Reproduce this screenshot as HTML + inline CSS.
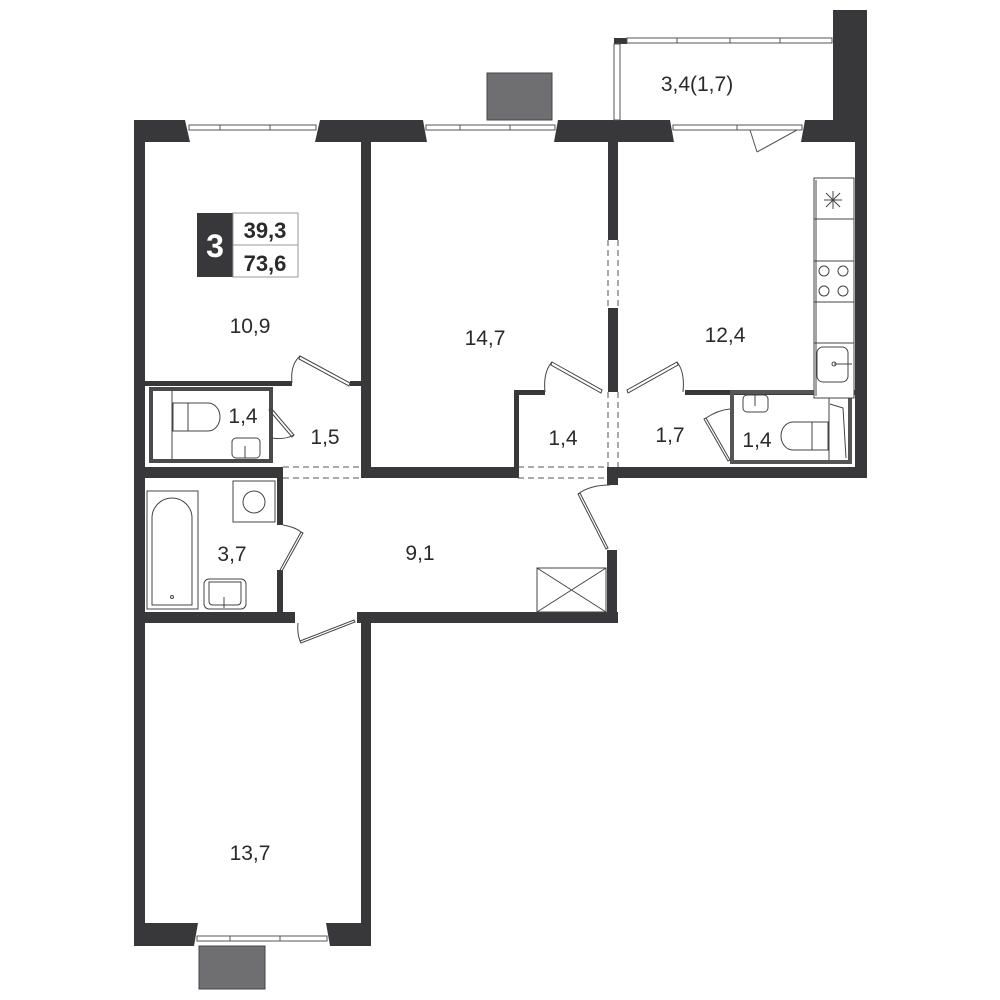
<!DOCTYPE html>
<html><head><meta charset="utf-8"><style>
html,body{margin:0;padding:0;background:#fff;}
svg{display:block;}
text{font-family:"Liberation Sans",sans-serif;fill:#2a2a2c;}
</style></head><body>
<svg width="1000" height="1000" viewBox="0 0 1000 1000" xmlns="http://www.w3.org/2000/svg">
<g fill="#38383a">
<rect x="134" y="120" width="700" height="22"/>
<rect x="833" y="10" width="34" height="132"/>
<rect x="855" y="130" width="12" height="348"/>
<rect x="134" y="120" width="11" height="826"/>
<rect x="361" y="142" width="10" height="336"/>
<rect x="608" y="142" width="10" height="98"/>
<rect x="608" y="308" width="10" height="84"/>
<rect x="610" y="467" width="257" height="11"/>
<rect x="145" y="381" width="147" height="5"/>
<rect x="350" y="381" width="11" height="5"/>
<rect x="134" y="467" width="149" height="11"/>
<rect x="361" y="467" width="157" height="11"/>
<rect x="514" y="390" width="5" height="88"/>
<rect x="514" y="390" width="31" height="5"/>
<rect x="685" y="390" width="170" height="5"/>
<rect x="607" y="467" width="11" height="18"/>
<rect x="277" y="478" width="6" height="47"/>
<rect x="277" y="570" width="6" height="53"/>
<rect x="134" y="612" width="161" height="11"/>
<rect x="357" y="612" width="261" height="11"/>
<rect x="607" y="550" width="10" height="73"/>
<rect x="361" y="623" width="10" height="323"/>
<rect x="134" y="923" width="237" height="23"/>
<rect x="614" y="38" width="13" height="6"/>
</g>
<g fill="#fff" stroke="#555" stroke-width="1">
<polygon points="185,120 320,120 315,142 190,142" stroke="none"/>
<polygon points="423,120 558,120 554,142 427,142" stroke="none"/>
<polygon points="670,120 805,120 801,142 674,142" stroke="none"/>
<polygon points="194,946 330,946 326,923 198,923" stroke="none"/>
<rect x="189" y="125" width="127" height="5"/>
<rect x="426" y="125" width="129" height="5"/>
<rect x="673" y="125" width="129" height="5"/>
<rect x="197" y="936" width="130" height="5"/>
<rect x="627" y="38" width="205" height="5"/>
<rect x="614" y="44" width="6" height="76"/>
</g>
<g stroke="#555" stroke-width="1">
<line x1="220" y1="125" x2="220" y2="130"/><line x1="270" y1="125" x2="270" y2="130"/>
<line x1="460" y1="125" x2="460" y2="130"/><line x1="510" y1="125" x2="510" y2="130"/>
<line x1="737" y1="125" x2="737" y2="130"/>
<line x1="230" y1="936" x2="230" y2="941"/><line x1="280" y1="936" x2="280" y2="941"/>
<line x1="677" y1="38" x2="677" y2="43"/><line x1="730" y1="38" x2="730" y2="43"/><line x1="780" y1="38" x2="780" y2="43"/>
</g>
<line x1="750" y1="130" x2="757" y2="152" stroke="#555"/>
<line x1="757" y1="152" x2="797" y2="130" stroke="#555"/>
<rect x="487" y="73" width="65" height="47" fill="#6f6f71" stroke="#444"/>
<rect x="199" y="946" width="66" height="43" fill="#6f6f71" stroke="#444"/>
<g stroke="#555" stroke-width="1" stroke-dasharray="6,4" fill="none">
<line x1="283" y1="467" x2="361" y2="467"/><line x1="283" y1="478" x2="361" y2="478"/>
<line x1="518" y1="467" x2="608" y2="467"/><line x1="518" y1="478" x2="608" y2="478"/>
<line x1="608" y1="240" x2="608" y2="308"/><line x1="618" y1="240" x2="618" y2="308"/>
<line x1="608" y1="392" x2="608" y2="467"/><line x1="618" y1="392" x2="618" y2="467"/>
</g>
<rect x="151" y="389" width="120" height="72" fill="none" stroke="#4a4a4c" stroke-width="4"/>
<g fill="none" stroke="#444" stroke-width="1">
<line x1="172" y1="391" x2="172" y2="459"/>
<path d="M173,403 H208 A12,14 0 0 1 208,431 H173 Z"/>
<line x1="188" y1="403" x2="188" y2="431"/>
<rect x="232" y="438" width="28" height="20" rx="4"/>
<line x1="245" y1="446" x2="245" y2="458"/>
<path d="M271,408 L294,435 L292,437 L269,410 Z"/>
<path d="M271,438 Q285,440 294,435"/>
<path d="M300,356 L350,383 L349,386 L299,359 Z"/>
<path d="M292,383 Q290,365 300,356"/>
<path d="M552,362 L602,390 L601,393 L551,365 Z"/>
<path d="M545,392 Q543,372 552,362"/>
<path d="M627,390 L677,362 L678,365 L628,393 Z"/>
<path d="M683,392 Q685,372 677,362"/>
<path d="M706,418 L730,460 L728,461 L704,419 Z"/>
<path d="M706,418 Q718,410 730,409"/>
<path d="M301,532 L280,570 L282,571 L303,533 Z"/>
<path d="M283,525 Q295,527 301,532"/>
<path d="M580,493 L608,548 L606,549 L578,494 Z"/>
<path d="M610,485 Q590,485 578,494"/>
<path d="M298,623 Q297,633 300,641"/>
<path d="M300,641 L354,620 L355,622 L301,643 Z"/>
<rect x="732" y="392" width="118" height="70" stroke="#555" stroke-width="4"/>
<rect x="743" y="395" width="25" height="17" rx="4"/>
<line x1="755" y1="395" x2="755" y2="406"/>
<path d="M828,422 H793 A12,14 0 0 0 793,450 H828 Z"/>
<line x1="812" y1="422" x2="812" y2="450"/>
<line x1="829" y1="394" x2="829" y2="460"/>
<polyline points="830,404 843,408 846,458"/>
<rect x="814" y="178" width="40" height="220" fill="#fff"/>
<line x1="814" y1="219" x2="854" y2="219"/>
<line x1="814" y1="261" x2="854" y2="261"/>
<line x1="814" y1="302" x2="854" y2="302"/>
<line x1="814" y1="343" x2="854" y2="343"/>
<line x1="816" y1="180" x2="816" y2="396"/>
<circle cx="824" cy="271" r="5"/><circle cx="843" cy="271" r="5"/>
<circle cx="824" cy="291" r="5"/><circle cx="843" cy="291" r="5"/>
<rect x="817" y="347" width="31" height="35" rx="6"/>
<line x1="834" y1="364" x2="852" y2="364"/>
<circle cx="834" cy="364" r="2"/>
<path d="M826,193 L840,207 M840,193 L826,207 M833,191 V209 M824,200 H842"/>
<rect x="147" y="491" width="51" height="118"/>
<path d="M152,605 V518 A20,20 0 0 1 192,518 V605 Z"/>
<circle cx="172" cy="597" r="1.5"/>
<rect x="233" y="481" width="42" height="41"/>
<circle cx="254" cy="502" r="11"/>
<rect x="204" y="579" width="42" height="30" rx="5"/>
<path d="M209,582 H241 V601 Q241,605 237,605 H213 Q209,605 209,601 Z"/>
<line x1="224" y1="597" x2="224" y2="608"/>
<rect x="537" y="568" width="69" height="44"/>
<line x1="537" y1="568" x2="606" y2="612"/>
<line x1="606" y1="568" x2="537" y2="612"/>
</g>
<rect x="197" y="213" width="36" height="64" fill="#38383a"/>
<rect x="233" y="213" width="65" height="64" fill="#fff" stroke="#999"/>
<line x1="233" y1="245" x2="298" y2="245" stroke="#999"/>
<text x="215" y="257" font-size="32" font-weight="bold" text-anchor="middle" style="fill:#fff">3</text>
<text x="265" y="238" font-size="22" font-weight="bold" text-anchor="middle">39,3</text>
<text x="265" y="271" font-size="22" font-weight="bold" text-anchor="middle">73,6</text>
<g font-size="21" text-anchor="middle">
<text x="250" y="333">10,9</text>
<text x="485" y="345">14,7</text>
<text x="725" y="342">12,4</text>
<text x="697" y="91">3,4(1,7)</text>
<text x="243" y="423">1,4</text>
<text x="325" y="444">1,5</text>
<text x="563" y="445">1,4</text>
<text x="670" y="442">1,7</text>
<text x="757" y="447">1,4</text>
<text x="232" y="561">3,7</text>
<text x="420" y="560">9,1</text>
<text x="250" y="860">13,7</text>
</g>
</svg>
</body></html>
